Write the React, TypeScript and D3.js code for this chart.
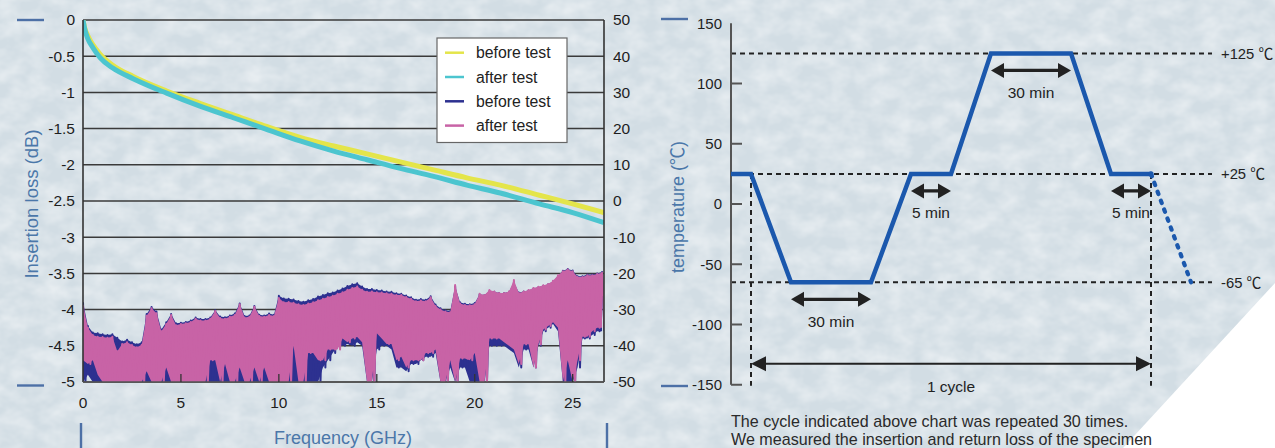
import React from 'react';
import * as d3 from 'd3';

const W = 1275;
const H = 448;
const FONT = "'Liberation Sans', Arial, Helvetica, 'Noto Sans CJK JP', sans-serif";

// ---- Insertion loss (left axis, dB) ----
const ilFreq = [0, 0.1, 0.25, 0.5, 0.87, 1.5, 2.56, 4.27, 5.97, 7.67, 9.37, 11.08, 12.8, 14.5, 16.2, 17.9, 19.6, 21.3, 23.3, 25.0, 26.6];
const ilBefore = [0, -0.12, -0.22, -0.34, -0.47, -0.62, -0.78, -0.98, -1.15, -1.31, -1.47, -1.62, -1.74, -1.85, -1.96, -2.07, -2.18, -2.28, -2.42, -2.54, -2.66];
const ilAfter = [0, -0.14, -0.26, -0.38, -0.52, -0.66, -0.81, -1.01, -1.19, -1.35, -1.51, -1.67, -1.81, -1.93, -2.05, -2.16, -2.28, -2.39, -2.54, -2.66, -2.8];

// ---- Return loss (right axis, dB), one peak / trough pair every 0.25 GHz ----
const rlStep = 0.25;
const rlBeforeHigh = [
  -28, -34.5, -36.3, -36.5, -36.8, -37, -36.8, -37.8, -38.8, -38.3,
  -39, -39.6, -39, -31.2, -29.3, -30.5, -35.5, -33.5, -31.2, -33.8,
  -33.6, -33.4, -33, -32.2, -32.6, -32.6, -32.2, -30.2, -31.9, -32.1,
  -31.6, -31.1, -28.3, -31.8, -31.6, -29, -31.4, -31.6, -31.1, -31.4,
  -26.2, -26.9, -27, -27.2, -27.6, -27.8, -27.4, -27.1, -26.4, -26,
  -25.5, -25.3, -24.7, -24.2, -23.5, -23, -22.7, -23.6, -24.3, -24.3,
  -24.6, -24.7, -25, -25.1, -25.5, -25.6, -26.1, -26.6, -27.3, -27.1,
  -27.3, -26.3, -28.6, -29.6, -30.2, -30.4, -23.6, -28, -28.4, -28.5,
  -28.2, -25.8, -26, -24.9, -25.1, -25.4, -25.4, -25.1, -22.5, -25.3,
  -25, -24.7, -24.2, -23.8, -23.4, -23, -22.2, -20.8, -19.3, -18.8,
  -19.2, -20.8, -20.8, -20.3, -20.3, -20, -19.6,
];
const rlBeforeLow = [
  -50, -48, -50, -50, -50, -50, -50, -50, -50, -50,
  -50, -50, -50, -50, -50, -50, -50, -50, -50, -50,
  -50, -50, -50, -50, -50, -50, -50, -50, -50, -50,
  -50, -50, -50, -50, -50, -50, -50, -50, -50, -50,
  -50, -50, -50, -50, -50, -50, -50, -50, -50, -46,
  -44, -42, -40, -40, -39.5, -40, -39, -40, -50, -50,
  -41, -40, -40, -41, -46, -46, -47, -45, -45, -44,
  -43, -43, -42, -50, -50, -46, -50, -46, -46, -50,
  -50, -50, -50, -40, -40, -40, -40, -41, -42, -46,
  -41, -41, -46, -40, -36, -35, -34, -36, -50, -50,
  -50, -46, -38, -38, -37, -36, -36,
];
const rlAfterHigh = [
  -28.7, -35, -37, -37.5, -37.6, -37.8, -37.5, -41.5, -39.5, -39,
  -39.8, -40.4, -39.7, -31.7, -29.6, -31, -36, -34, -31.5, -34.3,
  -34, -33.8, -33.4, -32.5, -33, -33, -32.5, -30.4, -32.3, -32.5,
  -32, -31.5, -28.5, -32.2, -32, -29.2, -31.8, -32, -31.5, -31.8,
  -26.8, -28, -27.9, -28.1, -28.5, -28.7, -28.3, -28, -27.4, -27,
  -26.5, -26.2, -25.6, -25.2, -24.5, -24, -23.6, -24.5, -25.1, -25,
  -25.2, -25.3, -25.5, -25.6, -26, -26, -26.5, -27, -27.7, -27.5,
  -27.7, -26.6, -29, -30, -30.5, -30.7, -23.2, -28.3, -28.7, -28.8,
  -28.5, -25.6, -26, -24.6, -25, -25.4, -25.4, -25, -21.8, -25.4,
  -25, -24.6, -24, -23.7, -23.3, -22.9, -22, -20.5, -19.4, -18.9,
  -19.4, -21, -21, -20.5, -20.5, -20.2, -19.8,
];
const rlAfterLow = [
  -44, -45, -44, -48, -50, -50, -50, -50, -50, -50,
  -50, -50, -50, -47, -50, -50, -50, -46, -50, -50,
  -50, -50, -50, -50, -50, -50, -44, -44, -50, -45,
  -50, -50, -46, -50, -50, -46, -50, -46, -50, -50,
  -50, -50, -50, -40, -50, -50, -42, -42, -44, -44,
  -41, -41, -41, -38, -39, -38, -37.6, -39, -50, -50,
  -36.5, -38, -39.5, -39.5, -44, -43, -46, -44, -44, -44,
  -42, -42, -41, -50, -50, -44, -50, -43.5, -43.5, -44,
  -42, -50, -50, -38, -38, -38, -39, -40, -41, -45,
  -39.6, -39.6, -46, -39.6, -35.5, -34.5, -33.5, -35, -50, -44,
  -50, -44, -37.5, -37.5, -36, -35, -35,
];

const lossTicks = [0, -0.5, -1, -1.5, -2, -2.5, -3, -3.5, -4, -4.5, -5];
const returnTicks = [50, 40, 30, 20, 10, 0, -10, -20, -30, -40, -50];
const freqTicks = [0, 5, 10, 15, 20, 25];

const legendLabels = ['before test', 'after test', 'before test', 'after test'];
const seriesColors = ['#e4e54a', '#4cc5cf', '#2d3190', '#c863a6'];

// ---- Thermal cycle profile (schematic time units) ----
const cycleTime = [0, 5, 15, 35, 45, 55, 65, 85, 95, 105];
const cycleTemp = [25, 25, -65, -65, 25, 25, 125, 125, 25, 25];
const nextTime = [105, 115];
const nextTemp = [25, -65];
const tempTicks = [150, 100, 50, 0, -50, -100, -150];
const levelTemps = [125, 25, -65];
const levelLabels = ['+125 \u2103', '+25 \u2103', '-65 \u2103'];
const holdStart = [15, 65, 45, 95];
const holdEnd = [35, 85, 55, 105];
const holdLevel = [-65, 125, 25, 25];
const holdLabels = ['30 min', '30 min', '5 min', '5 min'];
const cycleMarks = [5, 105];

const noteLines = [
  'The cycle indicated above chart was repeated 30 times.',
  'We measured the insertion and return loss of the specimen',
];

const INK = '#222';
const TITLE_BLUE = '#4b77a9';
const MARK_BLUE = '#4d70a6';
const PROFILE_BLUE = '#1b58ad';

function DoubleArrow({ x0, x1, y, head, half, sw }: { x0: number; x1: number; y: number; head: number; half: number; sw: number }) {
  return (
    <g>
      <line x1={x0 + head - 1} x2={x1 - head + 1} y1={y} y2={y} stroke={INK} strokeWidth={sw} />
      <polygon points={`${x0},${y} ${x0 + head},${y - half} ${x0 + head},${y + half}`} fill={INK} />
      <polygon points={`${x1},${y} ${x1 - head},${y - half} ${x1 - head},${y + half}`} fill={INK} />
    </g>
  );
}

export default function App() {
  // left panel scales
  const fx = d3.scaleLinear().domain([0, 26.6]).range([83, 604]);
  const yLoss = d3.scaleLinear().domain([-5, 0]).range([382, 20]);
  const yRet = d3.scaleLinear().domain([-50, 50]).range([382, 20]);

  const ilLine = d3
    .line<number>()
    .x((_, i) => fx(ilFreq[i]))
    .y((d) => yLoss(d))
    .curve(d3.curveMonotoneX);

  // a return-loss sweep: band between peaks and troughs, plus the jagged trace itself
  const band = (high: number[], low: number[]) =>
    d3
      .area<number>()
      .x((_, i) => fx(i * rlStep))
      .y1((d) => yRet(d))
      .y0((_, i) => yRet(low[i]))(high) || '';
  const trace = (high: number[], low: number[]) => {
    const pts: [number, number][] = [];
    high.forEach((h, i) => {
      const f = i * rlStep;
      pts.push([fx(f), yRet(h)]);
      pts.push([fx(f + rlStep / 2), yRet(low[i])]);
    });
    return d3.line()(pts) || '';
  };

  // right panel scales
  const tx = d3.scaleLinear().domain([0, 115]).range([731, 1191]);
  const ty = d3.scaleLinear().domain([-150, 150]).range([384.75, 23.25]);
  const profile = d3
    .line<number>()
    .x((_, i) => tx(cycleTime[i]))
    .y((d) => ty(d));
  const profileNext = d3
    .line<number>()
    .x((_, i) => tx(nextTime[i]))
    .y((d) => ty(d));

  const levelEnd = 1212;
  const cycleArrowY = ty(-150) - 21;

  return (
    <svg
      width={W}
      height={H}
      viewBox={`0 0 ${W} ${H}`}
      style={{ position: 'absolute', left: 0, top: 0, display: 'block' }}
      fontFamily={FONT}
    >
      <defs>
        <filter id="paper" x="0" y="0" width="100%" height="100%">
          <feTurbulence type="fractalNoise" baseFrequency="0.045 0.06" numOctaves="3" seed="11" result="n" />
          <feColorMatrix
            in="n"
            type="matrix"
            values="0 0 0 0 1  0 0 0 0 1  0 0 0 0 1  0.8 0 0 0 -0.25"
          />
        </filter>
        <clipPath id="plotClip">
          <rect x={83} y={20} width={521} height={362} />
        </clipPath>
      </defs>

      {/* page background */}
      <rect x={0} y={0} width={W} height={H} fill="#d2dde4" />
      <rect x={0} y={0} width={W} height={H} filter="url(#paper)" />
      <polygon points={`${W},283 ${W},${H} 1123,${H}`} fill="#ffffff" />

      {/* ================= Left panel ================= */}
      {lossTicks.map((t) => (
        <line key={`g${t}`} x1={83} x2={604} y1={yLoss(t)} y2={yLoss(t)} stroke="#3a3a3a" strokeWidth={1.5} />
      ))}

      <g clipPath="url(#plotClip)">
        <path d={band(rlBeforeHigh, rlBeforeLow)} fill={seriesColors[2]} />
        <path d={trace(rlBeforeHigh, rlBeforeLow)} fill="none" stroke={seriesColors[2]} strokeWidth={2} strokeLinejoin="round" />
        <path d={band(rlAfterHigh, rlAfterLow)} fill={seriesColors[3]} />
        <path d={trace(rlAfterHigh, rlAfterLow)} fill="none" stroke={seriesColors[3]} strokeWidth={2} strokeLinejoin="round" />
        <path d={ilLine(ilBefore) || ''} fill="none" stroke={seriesColors[0]} strokeWidth={5} />
        <path d={ilLine(ilAfter) || ''} fill="none" stroke={seriesColors[1]} strokeWidth={5} />
      </g>

      {/* frame */}
      <line x1={83} x2={83} y1={20} y2={382} stroke="#333" strokeWidth={1.6} />
      <line x1={604} x2={604} y1={20} y2={382} stroke="#333" strokeWidth={1.6} />
      <line x1={83} x2={604} y1={382} y2={382} stroke="#555" strokeWidth={1.6} />
      {freqTicks.slice(1).map((f) => (
        <line key={`xt${f}`} x1={fx(f)} x2={fx(f)} y1={382} y2={374} stroke="#333" strokeWidth={1.3} />
      ))}

      {lossTicks.map((t) => (
        <text key={`ly${t}`} x={75} y={yLoss(t)} dy="0.35em" textAnchor="end" fontSize={15.5} fill="#1e1e1e">
          {t}
        </text>
      ))}
      {returnTicks.map((t) => (
        <text key={`ry${t}`} x={613} y={yRet(t)} dy="0.35em" textAnchor="start" fontSize={15.5} fill="#1e1e1e">
          {t}
        </text>
      ))}
      {freqTicks.map((f) => (
        <text key={`fx${f}`} x={fx(f)} y={403} dy="0.35em" textAnchor="middle" fontSize={15.5} fill="#1e1e1e">
          {f}
        </text>
      ))}

      <text x={343} y={438} dy="0.35em" textAnchor="middle" fontSize={18} fill={TITLE_BLUE}>
        Frequency (GHz)
      </text>
      <text
        transform="translate(32,204) rotate(-90)"
        textAnchor="middle"
        dy="0.35em"
        fontSize={18.5}
        fill={TITLE_BLUE}
      >
        Insertion loss (dB)
      </text>

      {/* legend */}
      <rect x={437} y={38} width={130} height={104.5} fill="#ffffff" stroke="#666" strokeWidth={1.2} />
      {legendLabels.map((lab, i) => {
        const y = 52.7 + i * 24.3;
        return (
          <g key={`lg${i}`}>
            <line x1={445} x2={464} y1={y} y2={y} stroke={seriesColors[i]} strokeWidth={2.5} />
            <text x={476} y={y} dy="0.35em" fontSize={15.8} fill="#222">
              {lab}
            </text>
          </g>
        );
      })}

      {/* crop marks */}
      <g stroke={MARK_BLUE} strokeWidth={2.4}>
        <line x1={17} x2={44} y1={20} y2={20} />
        <line x1={17} x2={44} y1={385.5} y2={385.5} />
        <line x1={81} x2={81} y1={423} y2={448} />
        <line x1={607} x2={607} y1={423} y2={448} />
        <line x1={661} x2={688} y1={19} y2={19} />
        <line x1={661} x2={688} y1={386} y2={386} />
      </g>

      {/* ================= Right panel ================= */}
      {/* temperature levels */}
      {levelTemps.map((t, i) => (
        <g key={`lv${t}`}>
          <line x1={tx(0)} x2={levelEnd} y1={ty(t)} y2={ty(t)} stroke={INK} strokeWidth={2} strokeDasharray="5 4" />
          <text x={1221} y={ty(t)} dy="0.35em" fontSize={14.8} fill="#222">
            {levelLabels[i]}
          </text>
        </g>
      ))}

      {/* cycle boundaries */}
      {cycleMarks.map((t) => (
        <line key={`cm${t}`} x1={tx(t)} x2={tx(t)} y1={ty(25)} y2={ty(-150) + 1} stroke={INK} strokeWidth={2} strokeDasharray="5 4" />
      ))}

      {/* axis */}
      <line x1={731} x2={731} y1={ty(150)} y2={ty(-150)} stroke="#555" strokeWidth={2} />
      {tempTicks.map((t) => (
        <g key={`tt${t}`}>
          {t !== 150 && <line x1={731} x2={742} y1={ty(t)} y2={ty(t)} stroke="#555" strokeWidth={2} />}
          <text x={722} y={ty(t)} dy="0.35em" textAnchor="end" fontSize={15} fill="#1e1e1e">
            {t}
          </text>
        </g>
      ))}
      <text
        transform="translate(678,207) rotate(-90)"
        textAnchor="middle"
        dy="0.35em"
        fontSize={18}
        fill={TITLE_BLUE}
      >
        temperature (℃)
      </text>

      {/* profile */}
      <path d={profileNext(nextTemp) || ''} fill="none" stroke={PROFILE_BLUE} strokeWidth={4.2} strokeDasharray="2.5 7" strokeLinecap="round" />
      <path d={profile(cycleTemp) || ''} fill="none" stroke={PROFILE_BLUE} strokeWidth={4.5} strokeLinejoin="miter" />
      <circle cx={tx(cycleTime[cycleTime.length - 1])} cy={ty(cycleTemp[cycleTemp.length - 1])} r={2.6} fill={PROFILE_BLUE} />

      {/* hold durations */}
      {holdStart.map((t0, i) => {
        const x0 = tx(t0);
        const x1 = tx(holdEnd[i]);
        const y = ty(holdLevel[i]) + 17;
        return (
          <g key={`hd${i}`}>
            <DoubleArrow x0={x0} x1={x1} y={y} head={13} half={7.5} sw={3.3} />
            <text x={(x0 + x1) / 2} y={y + 22} dy="0.35em" textAnchor="middle" fontSize={15.5} fill="#222">
              {holdLabels[i]}
            </text>
          </g>
        );
      })}

      {/* one cycle */}
      <DoubleArrow x0={tx(cycleMarks[0])} x1={tx(cycleMarks[1])} y={cycleArrowY} head={15} half={7.5} sw={2.2} />
      <text x={(tx(cycleMarks[0]) + tx(cycleMarks[1])) / 2} y={cycleArrowY + 22.5} dy="0.35em" textAnchor="middle" fontSize={15.5} fill="#222">
        1 cycle
      </text>

      {/* note */}
      {noteLines.map((s, i) => (
        <text key={`nt${i}`} x={731} y={421 + i * 18} dy="0.35em" fontSize={16.1} fill="#2a2a2a">
          {s}
        </text>
      ))}
    </svg>
  );
}
